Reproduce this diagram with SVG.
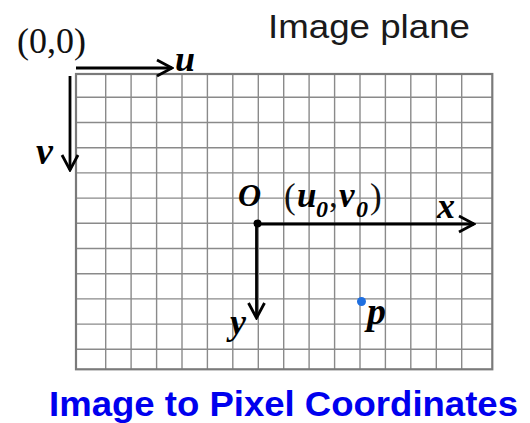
<svg xmlns="http://www.w3.org/2000/svg" width="530" height="423" viewBox="0 0 530 423">
<style>
.grid line{stroke:#8a8a8a;stroke-width:1.4}
.border{fill:none;stroke:#7a7a7a;stroke-width:2.2}
.axis{stroke:#000;stroke-width:2.8;fill:none}
.m{font-family:"Liberation Serif","Times New Roman",serif;font-weight:bold;font-style:italic;fill:#000}
.r{font-family:"Liberation Serif","Times New Roman",serif;fill:#111}
</style>
<defs>
<marker id="chev" markerUnits="userSpaceOnUse" viewBox="-18 -10 20 20" markerWidth="20" markerHeight="20" refX="0" refY="0" orient="auto">
<path d="M-15,-8 L0,0 L-15,8" fill="none" stroke="#000" stroke-width="2.8" stroke-linejoin="miter"/>
</marker>
</defs>
<rect width="530" height="423" fill="#fff"/>
<g id="grid" class="grid">
<line x1="105.7" y1="74" x2="105.7" y2="369.3"/>
<line x1="131.1" y1="74" x2="131.1" y2="369.3"/>
<line x1="156.6" y1="74" x2="156.6" y2="369.3"/>
<line x1="182" y1="74" x2="182" y2="369.3"/>
<line x1="207.4" y1="74" x2="207.4" y2="369.3"/>
<line x1="232.8" y1="74" x2="232.8" y2="369.3"/>
<line x1="258.3" y1="74" x2="258.3" y2="369.3"/>
<line x1="283.7" y1="74" x2="283.7" y2="369.3"/>
<line x1="309.1" y1="74" x2="309.1" y2="369.3"/>
<line x1="334.6" y1="74" x2="334.6" y2="369.3"/>
<line x1="360" y1="74" x2="360" y2="369.3"/>
<line x1="385.4" y1="74" x2="385.4" y2="369.3"/>
<line x1="410.8" y1="74" x2="410.8" y2="369.3"/>
<line x1="436.3" y1="74" x2="436.3" y2="369.3"/>
<line x1="461.7" y1="74" x2="461.7" y2="369.3"/>
<line x1="76" y1="97.3" x2="492.3" y2="97.3"/>
<line x1="76" y1="122.5" x2="492.3" y2="122.5"/>
<line x1="76" y1="147.7" x2="492.3" y2="147.7"/>
<line x1="76" y1="172.9" x2="492.3" y2="172.9"/>
<line x1="76" y1="198.1" x2="492.3" y2="198.1"/>
<line x1="76" y1="223.3" x2="492.3" y2="223.3"/>
<line x1="76" y1="248.5" x2="492.3" y2="248.5"/>
<line x1="76" y1="273.7" x2="492.3" y2="273.7"/>
<line x1="76" y1="298.9" x2="492.3" y2="298.9"/>
<line x1="76" y1="324.1" x2="492.3" y2="324.1"/>
<line x1="76" y1="349.3" x2="492.3" y2="349.3"/>
<rect class="border" x="76" y="74" width="416.3" height="295.3"/>
</g>
<g id="connectors">
<line class="axis" x1="76" y1="68" x2="172" y2="68" marker-end="url(#chev)"/>
<line class="axis" x1="70" y1="76" x2="70" y2="170" marker-end="url(#chev)"/>
<line class="axis" x1="257.5" y1="224" x2="474" y2="224" marker-end="url(#chev)"/>
<line class="axis" x1="256.5" y1="224" x2="256.5" y2="318" marker-end="url(#chev)"/>
</g>
<g id="origin00"><text class="r" x="17" y="53" font-size="36">(0,0)</text></g>
<g id="label-u"><text class="m" x="175" y="71" font-size="36">u</text></g>
<g id="label-v"><text class="m" x="36" y="164" font-size="38">v</text></g>
<g id="image-plane"><text x="268" y="38" font-family="'Liberation Sans',Arial,sans-serif" font-size="34" fill="#1a1a1a" textLength="202" lengthAdjust="spacingAndGlyphs">Image plane</text></g>
<g id="point-O">
<circle cx="257.5" cy="223.5" r="4" fill="#000"/>
<text class="m" x="238" y="206" font-size="32">O</text>
<text class="r" x="284" y="208" font-size="35">(</text>
<text class="m" x="297" y="207" font-size="35">u</text>
<text class="m" x="316" y="217" font-size="24">0</text>
<text class="r" x="329" y="207" font-size="35">,</text>
<text class="m" x="339" y="207" font-size="35">v</text>
<text class="m" x="356" y="217" font-size="24">0</text>
<text class="r" x="370" y="208" font-size="35">)</text>
</g>
<g id="label-x"><text class="m" x="437" y="218" font-size="36">x</text></g>
<g id="label-y"><text class="m" x="230" y="334" font-size="36">y</text></g>
<g id="point-p">
<circle cx="361.5" cy="301.5" r="4.5" fill="#1f6fe0"/>
<text class="m" x="367" y="324" font-size="38">p</text>
</g>
<g id="title"><text x="49" y="416" font-family="'Liberation Sans',Arial,sans-serif" font-weight="bold" font-size="35" fill="#0000ee" textLength="469" lengthAdjust="spacingAndGlyphs">Image to Pixel Coordinates</text></g>
</svg>
